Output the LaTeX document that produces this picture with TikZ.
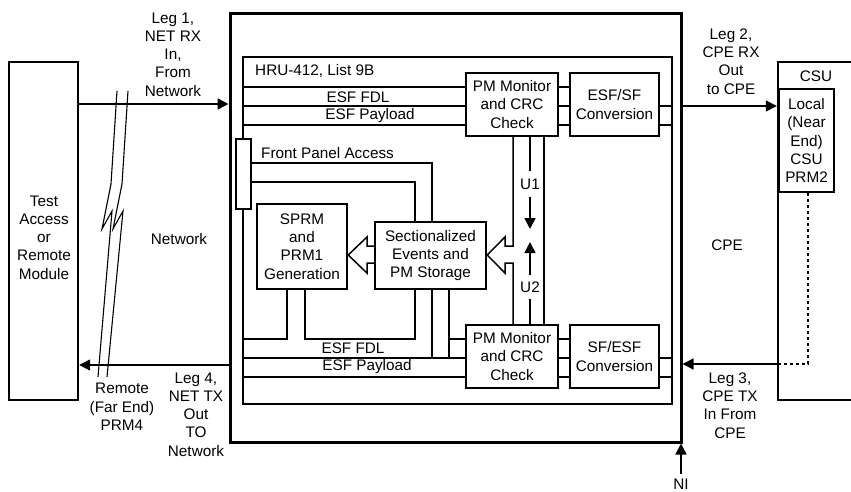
\documentclass[tikz,border=0pt]{standalone}
\usepackage{fontspec}
\setmainfont{Liberation Sans}
\usetikzlibrary{arrows.meta}
\begin{document}
\begin{tikzpicture}[x=1pt,y=-1pt,
  txt/.style={font=\fontsize{15.3}{18.3}\selectfont, align=center, inner sep=0pt},
  box/.style={draw, line width=2.4pt, inner sep=0pt, txt},
  thinl/.style={line width=1.5pt},
  arr/.style={line width=1.5pt, -{Triangle[length=11pt,width=11pt]}},
  dotl/.style={line width=1.5pt, dash pattern=on 3pt off 3pt}
]
\useasboundingbox[fill=white] (0,0) rectangle (851,491);
% left test box
\node[box, minimum width=69pt, minimum height=338pt] (test) at (43.5,231) {};
\node[txt] (testlbl) at (44,237.5) {Test\\Access\\or\\Remote\\Module};
% outer and inner boxes
\node[draw, line width=3pt, minimum width=451pt, minimum height=429pt, inner sep=0pt] (hru) at (455.5,227.5) {};
\node[draw, line width=2.4pt, minimum width=429pt, minimum height=347pt, inner sep=0pt] (inner) at (457.5,230.5) {};
\node[txt, anchor=west] (hrulbl) at (255,71) {HRU-412, List 9B};
% CSU
\node[box, minimum width=122pt, minimum height=338pt] (csu) at (839,231) {};
\node[txt] (csulbl) at (816,76) {CSU};
\node[box, minimum width=55pt, minimum height=103pt] (local) at (806.5,140.5) {Local\\(Near\\End)\\CSU\\PRM2};
% inner boxes
\node[box, minimum width=92pt, minimum height=63pt] (pmA) at (512,104.5) {PM Monitor\\and CRC\\Check};
\node[box, minimum width=89pt, minimum height=63pt] (convA) at (614.5,104.5) {ESF/SF\\Conversion};
\node[box, minimum width=92pt, minimum height=63pt] (pmB) at (512,356.5) {PM Monitor\\and CRC\\Check};
\node[box, minimum width=89pt, minimum height=63pt] (convB) at (614.5,356.5) {SF/ESF\\Conversion};
\node[box, minimum width=90pt, minimum height=85pt] (sprm) at (302,246.5) {SPRM\\and\\PRM1\\Generation};
\node[box, minimum width=111pt, minimum height=67pt] (sect) at (430.5,255.5) {Sectionalized\\Events and\\PM Storage};
% lines top
\foreach \y in {87,106,125}{
  \draw[thinl] (inner.west |- 0,\y) -- (pmA.west |- 0,\y);
  \draw[thinl] (pmA.east |- 0,\y) -- (convA.west |- 0,\y);
  \draw[thinl] (pmB.east |- 0,\y+252) -- (convB.west |- 0,\y+252);
}
\foreach \y in {106,125}{
  \draw[thinl] (convA.east |- 0,\y) -- (inner.east |- 0,\y);
  \draw[thinl] (convB.east |- 0,\y+252) -- (inner.east |- 0,\y+252);
}
\node[txt] (fdlA) at (358,97) {ESF FDL};
\node[txt] (payA) at (370,116) {ESF Payload};
% bottom lines
\draw[thinl] (inner.west |- 0,358) -- (pmB.west |- 0,358);
\draw[thinl] (inner.west |- 0,377) -- (pmB.west |- 0,377);
\node[txt] (fdlB) at (353,348) {ESF FDL};
\node[txt] (payB) at (367,367) {ESF Payload};
% front panel
\draw[thinl] (251,163) -| (sect.north -| 432,0);
\draw[thinl] (251,182) -| (sect.north -| 415,0);
\node[draw, fill=white, line width=2.4pt, minimum width=15pt, minimum height=70pt, inner sep=0pt] (fpa) at (243.5,174) {};
\node[txt, anchor=west] (fpalbl) at (261,153) {Front Panel Access};
% below SPRM / sect
\draw[thinl] (sprm.south -| 287,0) |- (inner.west |- 0,339);
\draw[thinl] (sprm.south -| 305,0) |- (415,339) -- (sect.south -| 415,0);
\draw[thinl] (sect.south -| 432,0) -- (432,358);
\draw[thinl] (sect.south -| 449,0) -- (449,358);
\draw[thinl] (449,339) -- (pmB.west |- 0,339);
% hollow arrows
\draw[thinl, line join=miter] (pmA.south -| 513,0) -- (513,246) -- (505,246) -- (505,237) -- (sect.east |- 0,255) -- (505,273) -- (505,263) -- (513,263) -- (pmB.north -| 513,0);
\draw[thinl, line join=miter] (sect.west |- 0,246) -- (367,246) -- (367,237) -- (sprm.east |- 0,255) -- (367,273) -- (367,263) -- (sect.west |- 0,263);
% U1 U2
\node[txt, inner ysep=7pt] (u1) at (530,184) {U1};
\node[txt, inner ysep=6pt] (u2) at (530,287) {U2};
\draw[thinl] (pmA.south -| 530,0) -- (u1.north);
\draw[arr] (u1.south) -- (530,229);
\draw[thinl] (pmB.north -| 530,0) -- (u2.south);
\draw[arr] (u2.north) -- (530,242);
\draw[thinl] (pmA.south -| 544,0) -- (pmB.north -| 544,0);
% external arrows
\draw[arr] (test.east |- 0,104) -- (hru.west |- 0,104);
\draw[arr] (hru.west |- 0,365) -- (test.east |- 0,365);
\draw[arr] (hru.east |- 0,106) -- (csu.west |- 0,106);
\draw[arr] (csu.west |- 0,364) -- (hru.east |- 0,364);
\draw[dotl] (local.south -| 808,0) |- (csu.west |- 0,364);
% break marks
\draw[line width=1.1pt, line join=miter] (117,91) -- (111,184) -- (102,229) -- (112,211) -- (98,377);
\draw[line width=1.1pt, line join=miter] (128,91) -- (122,184) -- (113,229) -- (123,211) -- (107,377);
% labels
\node[txt] (leg1) at (173,54.5) {Leg 1,\\NET RX\\In,\\From\\Network};
\node[txt] (net) at (179,239) {Network};
\node[txt] (remote) at (122,407) {Remote\\(Far End)\\PRM4};
\node[txt] (leg4) at (196,414.5) {Leg 4,\\NET TX\\Out\\TO\\Network};
\node[txt] (leg2) at (731,61.5) {Leg 2,\\CPE RX\\Out\\to CPE};
\node[txt] (cpe) at (727,245) {CPE};
\node[txt] (leg3) at (730,405.5) {Leg 3,\\CPE TX\\In From\\CPE};
\node[txt, inner ysep=5pt] (ni) at (681,484) {NI};
\draw[arr] (ni.north) -- (hru.south -| ni.north);
\end{tikzpicture}
\end{document}
